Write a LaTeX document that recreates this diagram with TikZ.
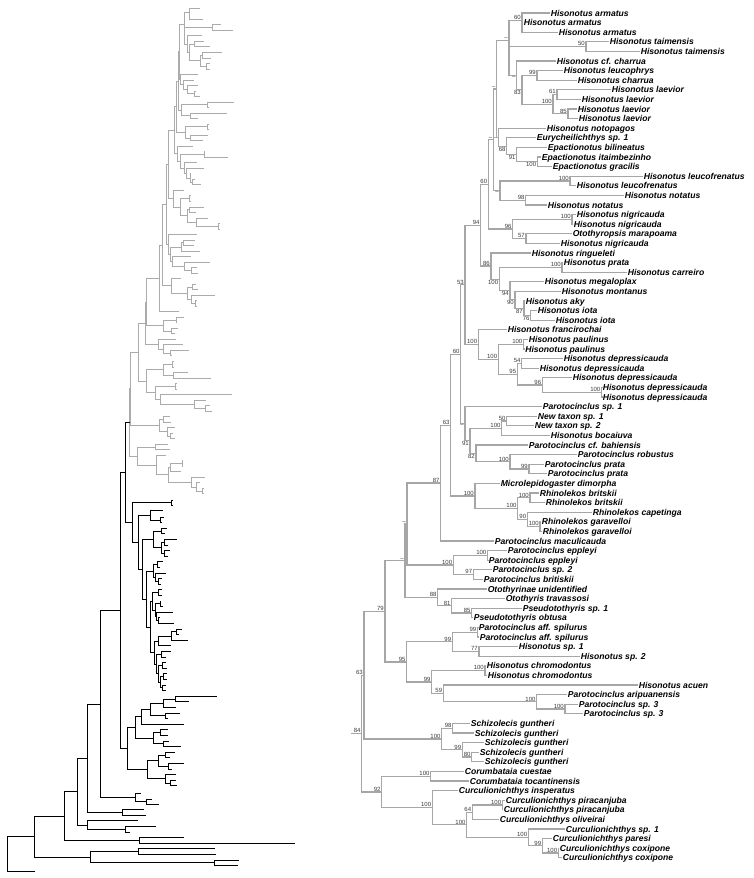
\documentclass[tikz,border=0pt]{standalone}
\usepackage{fontspec}
\setmainfont{Liberation Sans}
\usetikzlibrary{calc}
\definecolor{treegray}{HTML}{A6A6A6}
\definecolor{lgray}{HTML}{ABABAB}
\definecolor{supc}{HTML}{3A3A3A}
\newif\iflbl
\def\pf{r}\def\XA{0}\def\XB{1}\def\YA{0}\def\YB{1}
\newcommand\Lf[4]{%
  \pgfmathsetmacro\tx{\XA+\XB*(#2)}%
  \pgfmathsetmacro\ty{-(\YA+\YB*(13+(#3-1)*9.6))}%
  \coordinate (\pf#1) at (\tx pt,\ty pt);%
  \iflbl\node[taxon] (t#1) at (\pf#1) {#4};\fi}
\newcommand\Lb[3]{%
  \pgfmathsetmacro\tx{\XA+\XB*(#2)}%
  \pgfmathsetmacro\ty{-(\YA+\YB*(#3))}%
  \coordinate (\pf#1) at (\tx pt,\ty pt);}
\newcommand\Nd[4]{%
  \pgfmathsetmacro\tx{\XA+\XB*(#2)}%
  \coordinate (tmpm) at ($(\pf#3)!0.5!(\pf#4)$);%
  \coordinate (\pf#1) at (\tx pt,0pt |- tmpm);%
  \draw[br] (\pf#1) |- (\pf#3);%
  \draw[br] (\pf#1) |- (\pf#4);}
\newcommand\Sa[2]{\iflbl\node[sv,anchor=south east] (s#1) at ([xshift=-0.7pt,yshift=0.2pt]\pf#1) {#2};\fi}
\newcommand\Sb[2]{\iflbl\node[sv,anchor=north east] (s#1) at ([xshift=-0.7pt,yshift=-0.4pt]\pf#1) {#2};\fi}
\newcommand\drawtree{%
\Lf{L1}{550}{1}{Hisonotus armatus}
\Lf{L2}{523}{2}{Hisonotus armatus}
\Lf{L3}{558}{3}{Hisonotus armatus}
\Lf{L4}{609}{4}{Hisonotus taimensis}
\Lf{L5}{640}{5}{Hisonotus taimensis}
\Lf{L6}{556}{6}{Hisonotus cf. charrua}
\Lf{L7}{563}{7}{Hisonotus leucophrys}
\Lf{L8}{577}{8}{Hisonotus charrua}
\Lf{L9}{611}{9}{Hisonotus laevior}
\Lf{L10}{581}{10}{Hisonotus laevior}
\Lf{L11}{577}{11}{Hisonotus laevior}
\Lf{L12}{578}{12}{Hisonotus laevior}
\Lf{L13}{546}{13}{Hisonotus notopagos}
\Lf{L14}{536}{14}{Eurycheilichthys sp. 1}
\Lf{L15}{547}{15}{Epactionotus bilineatus}
\Lf{L16}{541}{16}{Epactionotus itaimbezinho}
\Lf{L17}{552}{17}{Epactionotus gracilis}
\Lf{L18}{643}{18}{Hisonotus leucofrenatus}
\Lf{L19}{576}{19}{Hisonotus leucofrenatus}
\Lf{L20}{624}{20}{Hisonotus notatus}
\Lf{L21}{547}{21}{Hisonotus notatus}
\Lf{L22}{576}{22}{Hisonotus nigricauda}
\Lf{L23}{573}{23}{Hisonotus nigricauda}
\Lf{L24}{572}{24}{Otothyropsis marapoama}
\Lf{L25}{560}{25}{Hisonotus nigricauda}
\Lf{L26}{531}{26}{Hisonotus ringueleti}
\Lf{L27}{563}{27}{Hisonotus prata}
\Lf{L28}{627}{28}{Hisonotus carreiro}
\Lf{L29}{544}{29}{Hisonotus megaloplax}
\Lf{L30}{561}{30}{Hisonotus montanus}
\Lf{L31}{525}{31}{Hisonotus aky}
\Lf{L32}{537}{32}{Hisonotus iota}
\Lf{L33}{555}{33}{Hisonotus iota}
\Lf{L34}{507}{34}{Hisonotus francirochai}
\Lf{L35}{528}{35}{Hisonotus paulinus}
\Lf{L36}{524.5}{36}{Hisonotus paulinus}
\Lf{L37}{563}{37}{Hisonotus depressicauda}
\Lf{L38}{539}{38}{Hisonotus depressicauda}
\Lf{L39}{572}{39}{Hisonotus depressicauda}
\Lf{L40}{602}{40}{Hisonotus depressicauda}
\Lf{L41}{602}{41}{Hisonotus depressicauda}
\Lf{L42}{542}{42}{Parotocinclus sp. 1}
\Lf{L43}{537}{43}{New taxon sp. 1}
\Lf{L44}{534}{44}{New taxon sp. 2}
\Lf{L45}{550}{45}{Hisonotus bocaiuva}
\Lf{L46}{528}{46}{Parotocinclus cf. bahiensis}
\Lf{L47}{577}{47}{Parotocinclus robustus}
\Lf{L48}{544}{48}{Parotocinclus prata}
\Lf{L49}{547}{49}{Parotocinclus prata}
\Lf{L50}{500}{50}{Microlepidogaster dimorpha}
\Lf{L51}{539}{51}{Rhinolekos britskii}
\Lf{L52}{545}{52}{Rhinolekos britskii}
\Lf{L53}{592}{53}{Rhinolekos capetinga}
\Lf{L54}{541}{54}{Rhinolekos garavelloi}
\Lf{L55}{542}{55}{Rhinolekos garavelloi}
\Lf{L56}{494}{56}{Parotocinclus maculicauda}
\Lf{L57}{507}{57}{Parotocinclus eppleyi}
\Lf{L58}{488}{58}{Parotocinclus eppleyi}
\Lf{L59}{492}{59}{Parotocinclus sp. 2}
\Lf{L60}{483}{60}{Parotocinclus britiskii}
\Lf{L61}{487}{61}{Otothyrinae unidentified}
\Lf{L62}{505}{62}{Otothyris travassosi}
\Lf{L63}{522}{63}{Pseudotothyris sp. 1}
\Lf{L64}{473}{64}{Pseudotothyris obtusa}
\Lf{L65}{478}{65}{Parotocinclus aff. spilurus}
\Lf{L66}{479}{66}{Parotocinclus aff. spilurus}
\Lf{L67}{518}{67}{Hisonotus sp. 1}
\Lf{L68}{580}{68}{Hisonotus sp. 2}
\Lf{L69}{486}{69}{Hisonotus chromodontus}
\Lf{L70}{487}{70}{Hisonotus chromodontus}
\Lf{L71}{638}{71}{Hisonotus acuen}
\Lf{L72}{567}{72}{Parotocinclus aripuanensis}
\Lf{L73}{578}{73}{Parotocinclus sp. 3}
\Lf{L74}{583}{74}{Parotocinclus sp. 3}
\Lf{L75}{470}{75}{Schizolecis guntheri}
\Lf{L76}{474}{76}{Schizolecis guntheri}
\Lf{L77}{484}{77}{Schizolecis guntheri}
\Lf{L78}{479}{78}{Schizolecis guntheri}
\Lf{L79}{484}{79}{Schizolecis guntheri}
\Lf{L80}{464}{80}{Corumbataia cuestae}
\Lf{L81}{469}{81}{Corumbataia tocantinensis}
\Lf{L82}{458}{82}{Curculionichthys insperatus}
\Lf{L83}{505}{83}{Curculionichthys piracanjuba}
\Lf{L84}{503}{84}{Curculionichthys piracanjuba}
\Lf{L85}{499}{85}{Curculionichthys oliveirai}
\Lf{L86}{565}{86}{Curculionichthys sp. 1}
\Lf{L87}{552}{87}{Curculionichthys paresi}
\Lf{L88}{559}{88}{Curculionichthys coxipone}
\Lf{L89}{562}{89}{Curculionichthys coxipone}
\Nd{A2}{522}{L2}{L3}
\Nd{A}{522}{L1}{A2}\Sa{A}{60}
\Nd{T}{586}{L4}{L5}\Sa{T}{50}
\Nd{E}{537}{L7}{L8}\Sa{E}{99}
\Nd{G}{557}{L9}{L10}\Sa{G}{61}
\Nd{H}{568}{L11}{L12}\Sa{H}{85}
\Nd{F}{553}{G}{H}\Sa{F}{100}
\Nd{N83}{522}{E}{F}\Sb{N83}{83}
\Nd{D}{516.7}{L6}{N83}\Sb{D}{–}
\Nd{B2}{509}{T}{D}
\Nd{B}{509}{A}{B2}\Sa{B}{–}
\Nd{I}{537.3}{L16}{L17}\Sb{I}{100}
\Nd{N91a}{516.7}{L15}{I}\Sb{N91a}{91}
\Nd{N68}{506.7}{L14}{N91a}\Sb{N68}{68}
\Nd{J}{498.3}{L13}{N68}\Sb{J}{–}
\Nd{R}{496.7}{B}{J}\Sa{R}{–}
\Nd{Lf}{570}{L18}{L19}\Sa{Lf}{100}
\Nd{Nt}{525.7}{L20}{L21}\Sa{Nt}{98}
\Nd{LN}{500}{Lf}{Nt}\Sb{LN}{–}
\Nd{Q}{493.5}{R}{LN}\Sa{Q}{–}
\Nd{Ng}{572}{L22}{L23}\Sa{Ng}{100}
\Nd{N57}{526}{L24}{L25}\Sa{N57}{57}
\Nd{N96}{512.7}{Ng}{N57}\Sa{N96}{96}
\Nd{N60a}{488.3}{Q}{N96}\Sa{N60a}{60}
\Nd{N76}{530.7}{L32}{L33}\Sb{N76}{76}
\Nd{N87b}{524}{L31}{N76}\Sb{N87b}{87}
\Nd{N90}{515}{L30}{N87b}\Sb{N90}{90}
\Nd{N94b}{510}{L29}{N90}\Sb{N94b}{94}
\Nd{Prc}{562}{L27}{L28}\Sa{Prc}{100}
\Nd{N100c}{499.3}{Prc}{N94b}\Sb{N100c}{100}
\Nd{N86}{491}{L26}{N100c}\Sa{N86}{86}
\Nd{N94}{480.7}{N60a}{N86}\Sa{N94}{94}
\Nd{Pau}{523.5}{L35}{L36}\Sa{Pau}{100}
\Nd{N54}{521.7}{L37}{L38}\Sa{N54}{54}
\Nd{N100f}{601.5}{L40}{L41}\Sa{N100f}{100}
\Nd{N96b}{542.3}{L39}{N100f}\Sa{N96b}{96}
\Nd{N95b}{517.3}{N54}{N96b}\Sa{N95b}{95}
\Nd{N100e}{498.3}{Pau}{N95b}\Sa{N100e}{100}
\Nd{N100d}{478.3}{L34}{N100e}\Sa{N100d}{100}
\Nd{N53}{465}{N94}{N100d}\Sa{N53}{53}
\Nd{N50}{506.7}{L43}{L44}\Sa{N50}{50}
\Nd{N100g}{501.7}{N50}{L45}\Sa{N100g}{100}
\Nd{N99c}{529}{L48}{L49}\Sa{N99c}{99}
\Nd{N100h}{510}{L47}{N99c}\Sa{N100h}{100}
\Nd{N82}{476}{L46}{N100h}\Sb{N82}{82}
\Nd{N91}{470}{N100g}{N82}\Sb{N91}{91}
\Nd{Nbot}{465}{L42}{N91}\Sb{Nbot}{–}
\Nd{N60b}{460.7}{N53}{Nbot}\Sa{N60b}{60}
\Nd{Rb}{530}{L51}{L52}\Sa{Rb}{100}
\Nd{Rg}{540}{L54}{L55}\Sa{Rg}{100}
\Nd{N90b}{527.3}{L53}{Rg}\Sa{N90b}{90}
\Nd{N100j}{517.7}{Rb}{N90b}\Sa{N100j}{100}
\Nd{N100i}{475}{L50}{N100j}\Sa{N100i}{100}
\Nd{N63b}{450.7}{N60b}{N100i}\Sa{N63b}{63}
\Nd{N87}{440.7}{N63b}{L56}\Sa{N87}{87}
\Nd{Epp}{487.5}{L57}{L58}\Sa{Epp}{100}
\Nd{N97}{473.3}{L59}{L60}\Sa{N97}{97}
\Nd{Ep}{453.3}{Epp}{N97}\Sa{Ep}{100}
\Nd{Nk}{407}{N87}{Ep}\Sa{Nk}{–}
\Nd{N85}{471.7}{L63}{L64}\Sa{N85}{85}
\Nd{N81}{451.7}{L62}{N85}\Sa{N81}{81}
\Nd{N88}{437.7}{L61}{N81}\Sa{N88}{88}
\Nd{Nout}{405}{Nk}{N88}\Sa{Nout}{–}
\Nd{Spil}{477.5}{L65}{L66}\Sa{Spil}{99}
\Nd{Hsp}{479}{L67}{L68}\Sa{Hsp}{77}
\Nd{N99a}{452.3}{Spil}{Hsp}\Sa{N99a}{99}
\Nd{Chr}{485}{L69}{L70}\Sa{Chr}{100}
\Nd{Par3}{565}{L73}{L74}\Sa{Par3}{100}
\Nd{Pa}{536.7}{L72}{Par3}\Sa{Pa}{100}
\Nd{N59}{443.3}{L71}{Pa}\Sa{N59}{59}
\Nd{N99b}{431.7}{Chr}{N59}\Sa{N99b}{99}
\Nd{N95}{406.7}{N99a}{N99b}\Sa{N95}{95}
\Nd{N79}{385}{Nout}{N95}\Sa{N79}{79}
\Nd{S98}{452.7}{L75}{L76}\Sa{S98}{98}
\Nd{S80}{471.7}{L78}{L79}\Sa{S80}{80}
\Nd{S99}{462.3}{L77}{S80}\Sa{S99}{99}
\Nd{S100}{441.7}{S98}{S99}\Sa{S100}{100}
\Nd{N63}{364}{N79}{S100}\Sa{N63}{63}
\Nd{Co}{430.7}{L80}{L81}\Sa{Co}{100}
\Nd{Cp}{502.3}{L83}{L84}\Sa{Cp}{100}
\Nd{C64}{472.3}{Cp}{L85}\Sa{C64}{64}
\Nd{Cx1}{558.3}{L88}{L89}\Sa{Cx1}{100}
\Nd{Cx2}{542.3}{L87}{Cx1}\Sa{Cx2}{99}
\Nd{Cx3}{528.3}{L86}{Cx2}\Sa{Cx3}{100}
\Nd{Cx4}{466.7}{C64}{Cx3}\Sa{Cx4}{100}
\Nd{Cu}{432.3}{L82}{Cx4}\Sa{Cu}{100}
\Nd{N92}{381.7}{Co}{Cu}\Sa{N92}{92}
\Nd{Root}{361.7}{N63}{N92}\Sa{Root}{84}
\pgfmathsetmacro\tx{\XA+\XB*351}%
\coordinate (\pf stub) at (\tx pt,0pt |- \pf Root);
\draw[br] (\pf stub) -- (\pf Root);
}
\tikzset{
  taxon/.style={anchor=west,inner sep=0.6pt,text height=6.2pt,text depth=0pt,
    font=\fontsize{8.6}{10}\selectfont\bfseries\itshape},
  sv/.style={inner sep=0.3pt,text=supc,font=\fontsize{6}{7}\selectfont},
}
\begin{document}
\begin{tikzpicture}[x=1pt,y=1pt]
\useasboundingbox (0,0) rectangle (753,-878);
% ---- left panel: grey clade (same topology, reduced) ----
\def\pf{l}\def\XA{-3.9}\def\XB{0.37}\def\YA{0.83}\def\YB{0.5748}\lblfalse
\tikzset{br/.style={draw=lgray,line width=0.9pt}}
\drawtree
% ---- left panel: black part ----
\def\pf{b}\def\XA{0}\def\XB{1}\def\YA{0}\def\YB{1}\lblfalse
\tikzset{br/.style={draw=black,line width=1pt}}
\coordinate (bGR) at (lRoot);
\Lb{T0}{35}{871.7}
\Lb{a1}{215}{848.3}\Lb{a2}{216}{854}\Nd{K3a}{138.3}{a1}{a2}
\Lb{b1}{239.3}{860}\Lb{b2}{237.7}{865.7}\Nd{K3b}{214.3}{b1}{b2}
\Nd{K3}{90}{K3a}{K3b}
\Lb{c1}{184}{837.3}\Lb{c2}{295}{843.3}\Nd{K5}{139.3}{c1}{c2}
\Lb{d1}{155.7}{826.7}\Lb{d2}{130}{832.3}\Nd{K8}{125.7}{d1}{d2}
\Lb{d3}{138.3}{820.7}\Nd{K7}{87.7}{d3}{K8}
\Lb{e1}{144}{809.3}\Lb{e2}{145.7}{815.7}\Nd{K10}{122.7}{e1}{e2}
\Lb{f1}{151.7}{799}\Lb{f2}{159}{804.3}\Nd{K12}{146}{f1}{f2}
\Lb{f3}{140.7}{793.3}\Nd{K11}{135}{f3}{K12}
\Lb{g1}{172.3}{500.3}\Lb{g2}{172.3}{505.1}\Nd{C1}{171.7}{g1}{g2}
\Lb{h1}{163.3}{510.7}\Lb{h2}{164.3}{517.7}\Lb{h3}{161.7}{522.7}
\Nd{n160}{160}{h2}{h3}\Nd{n150}{150}{h1}{n160}
\Lb{y0}{166.7}{528.3}\Lb{y1}{165}{533.9}\Nd{ya}{161.7}{y0}{y1}
\Lb{y2}{176.7}{539.5}\Lb{y3}{168.3}{545.1}\Nd{yb}{164}{y2}{y3}
\Lb{y4}{170}{550.7}\Lb{y5}{168}{556.3}\Nd{yc}{164}{y4}{y5}
\Nd{yd}{161.7}{yb}{yc}\Nd{Y1}{153.3}{ya}{yd}
\Lb{y6}{163}{561.9}\Lb{y7}{160}{567.5}\Nd{ye}{157}{y6}{y7}
\Lb{y8}{166}{573.1}\Lb{y9}{162}{578.7}\Lb{y10}{161}{584.3}
\Nd{yf}{158}{y9}{y10}\Nd{yg}{155}{y8}{yf}\Nd{Y2a}{153.3}{ye}{yg}
\Lb{y11}{162}{589.9}\Lb{y12}{162}{595.5}\Nd{yh}{158}{y11}{y12}
\Lb{y13}{161}{601.1}\Lb{y14}{163.3}{606.7}\Nd{yi}{160}{y13}{y14}
\Lb{y15}{173.3}{612.3}\Lb{y16}{160}{617.9}\Lb{y17}{174}{623.5}
\Nd{yj}{158}{y16}{y17}\Nd{yk}{156}{y15}{yj}
\Nd{yl}{155}{yi}{yk}\Nd{Y2b}{152}{yh}{yl}
\Lb{y18}{181.7}{629.1}\Lb{y19}{179.3}{634.7}\Nd{ym}{176}{y18}{y19}
\Lb{y20}{187.7}{640.3}\Nd{yn}{171}{ym}{y20}
\Lb{y21}{170.7}{645.9}\Nd{yo}{158}{yn}{y21}
\Lb{y22}{170.7}{651.5}\Lb{y23}{165.7}{657.1}\Nd{yp}{161}{y22}{y23}
\Lb{y24}{165.7}{662.7}\Lb{y25}{166.7}{668.3}\Nd{yq}{162}{y24}{y25}
\Lb{y26}{166.7}{673.9}\Lb{y27}{166.7}{679.5}\Nd{yr}{163}{y26}{y27}
\Lb{y28}{165.7}{685.1}\Lb{y29}{165.7}{690.7}\Nd{ys}{162}{y28}{y29}
\Nd{yt}{160}{yr}{ys}\Nd{yu}{158}{yq}{yt}\Nd{yv}{156}{yp}{yu}\Nd{Y2c}{154}{yo}{yv}
\Nd{Y2d}{150}{Y2b}{Y2c}\Nd{Y2}{146}{Y2a}{Y2d}
\Nd{Y}{142.7}{Y1}{Y2}
\Nd{X415}{138.3}{n150}{Y}
\Nd{X397}{132.3}{C1}{X415}
\Nd{X375}{125}{GR}{X397}
\Lb{z0}{217.3}{696.3}\Lb{z1}{189}{701.9}\Nd{za}{175.7}{z0}{z1}
\Lb{z2}{175.7}{707.5}\Nd{zb}{163.3}{za}{z2}
\Lb{z3}{180}{713.1}\Lb{z4}{168}{718.7}\Nd{zc}{165}{z3}{z4}
\Nd{zd}{150}{zb}{zc}
\Lb{z5}{184.3}{724.3}\Nd{Xa}{141.7}{zd}{z5}
\Lb{z6}{168.3}{729.9}\Lb{z7}{168.3}{735.5}\Nd{ze}{160}{z6}{z7}
\Lb{z8}{169.3}{741.1}\Lb{z9}{181}{746.7}\Nd{zf}{163}{z8}{z9}
\Nd{Xb}{153}{ze}{zf}
\Nd{X405}{135}{Xa}{Xb}
\Lb{z10}{175}{752.3}\Lb{z11}{170}{757.9}\Nd{zg}{165}{z10}{z11}
\Lb{z12}{184}{763.5}\Lb{z13}{172}{769.1}\Nd{zh}{168}{z12}{z13}
\Nd{zi}{158}{zg}{zh}
\Lb{z14}{176}{774.7}\Lb{z15}{176}{780.3}\Lb{z16}{176.7}{785.9}
\Nd{zj}{170}{z15}{z16}\Nd{zk}{165}{z14}{zj}
\Nd{Xl}{147.3}{zi}{zk}
\Nd{X382}{127.3}{X405}{Xl}
\Nd{X360}{120}{X375}{X382}
\Nd{K9}{100}{X360}{K11}
\Nd{K6}{87.3}{K9}{K10}
\Nd{K4}{77.7}{K6}{K7}
\Nd{K2}{64.3}{K4}{K5}
\Nd{K1}{34.3}{K2}{K3}
\Nd{R0}{7.3}{K1}{T0}
% ---- right panel ----
\def\pf{r}\def\XA{0}\def\XB{1}\def\YA{0}\def\YB{1}\lbltrue
\tikzset{br/.style={draw=treegray,line width=1.2pt}}
\drawtree
\end{tikzpicture}
\end{document}
